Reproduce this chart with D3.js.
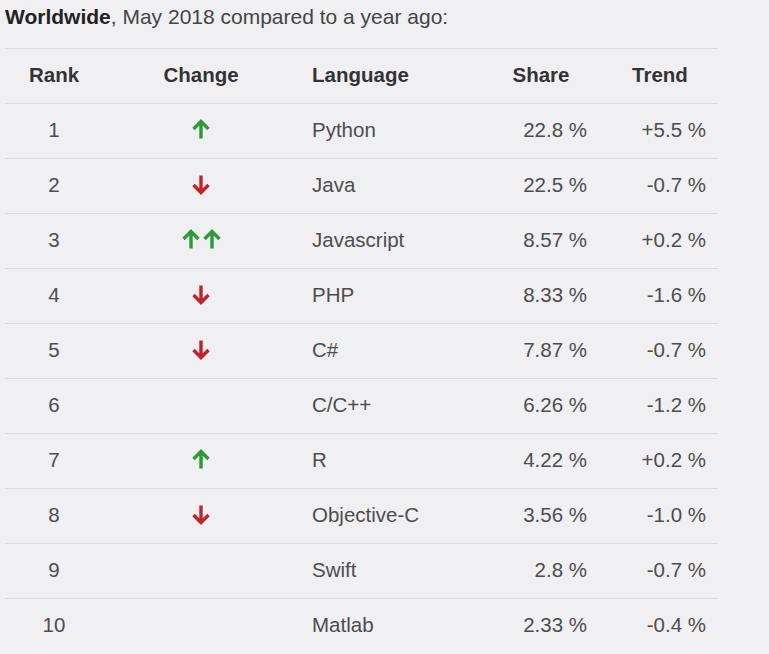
<!DOCTYPE html>
<html>
<meta charset="utf-8">
<style>
body{ margin:0; background:#f0f0f2; }
svg text{ font-family:"Liberation Sans", Arial, sans-serif; font-size:20.5px; }
.head{ font-weight:bold; fill:#333; }
.cell{ fill:#4d4d4d; }
.rule{ stroke:#dcdcde; stroke-width:1; shape-rendering:crispEdges; }
</style>
<body>
<script src="https://d3js.org/d3.v7.min.js"></script>
<script>

var columns=['Rank','Change','Language','Share','Trend'];
var ranks=[1,2,3,4,5,6,7,8,9,10];
var changes=['up','down','upup','down','down','','up','down','',''];
var languages=['Python','Java','Javascript','PHP','C#','C/C++','R','Objective-C','Swift','Matlab'];
var shares=['22.8 %','22.5 %','8.57 %','8.33 %','7.87 %','6.26 %','4.22 %','3.56 %','2.8 %','2.33 %'];
var trends=['+5.5 %','-0.7 %','+0.2 %','-1.6 %','-0.7 %','-1.2 %','+0.2 %','-1.0 %','-0.7 %','-0.4 %'];

var W=769, H=654;
var svg=d3.select("body").append("svg").attr("width",W).attr("height",H);

// title
var title=svg.append("text").attr("x",5).attr("y",24).style("font-size","21px");
title.append("tspan").attr("font-weight","bold").attr("fill","#222").text("Worldwide");
title.append("tspan").attr("fill","#444").text(", May 2018 compared to a year ago:");

var rows=d3.scaleBand().domain(['head'].concat(languages)).range([48,653]);

// column anchors
var col={
	Rank:{x:54, anchor:"middle"},
	Change:{x:201, anchor:"middle"},
	Language:{x:312, anchor:"start"},
	Share:{x:587, anchor:"end"},
	Trend:{x:706, anchor:"end"}
};
var headX={Rank:54, Change:201, Language:312, Share:541, Trend:660};
var headAnchor={Rank:"middle", Change:"middle", Language:"start", Share:"middle", Trend:"middle"};

// rules
svg.selectAll(".rule").data(rows.domain()).enter().append("line").attr("class","rule")
	.attr("x1",5).attr("x2",718)
	.attr("y1",d=>Math.round(rows(d))+0.5).attr("y2",d=>Math.round(rows(d))+0.5);

// header
svg.selectAll(".head").data(columns).enter().append("text").attr("class","head")
	.attr("x",d=>headX[d]).attr("y",rows('head')+rows.bandwidth()/2-1)
	.attr("dy","0.35em").attr("text-anchor",d=>headAnchor[d]).text(d=>d);

var table=languages.map(function(l,i){
	return {Rank:ranks[i], Change:changes[i], Language:l, Share:shares[i], Trend:trends[i]};
});

var g=svg.selectAll(".row").data(table).enter().append("g").attr("class","row")
	.attr("transform",d=>"translate(0,"+(rows(d.Language)+rows.bandwidth()/2-1)+")");

['Rank','Language','Share','Trend'].forEach(function(c){
	g.append("text").attr("class","cell")
		.attr("x",col[c].x).attr("dy","0.35em").attr("text-anchor",col[c].anchor)
		.text(d=>d[c]);
});

// arrows
function arrow(sel,x,dir,color){
	var s=dir=="up"?1:-1;
	sel.append("path")
		.attr("d","M"+x+","+(9*s)+"V"+(-7*s)+"M"+(x-7.5)+","+(-0.5*s)+"L"+x+","+(-8*s)+"L"+(x+7.5)+","+(-0.5*s))
		.attr("fill","none").attr("stroke",color).attr("stroke-width",3.4)
		.attr("stroke-linecap","butt").attr("stroke-linejoin","miter");
}
g.each(function(d){
	var sel=d3.select(this);
	if(d.Change=="up") arrow(sel,201,"up","#2b9b37");
	if(d.Change=="down") arrow(sel,201,"down","#c4222a");
	if(d.Change=="upup"){ arrow(sel,191,"up","#2b9b37"); arrow(sel,212,"up","#2b9b37"); }
});

</script>
</body>
</html>
